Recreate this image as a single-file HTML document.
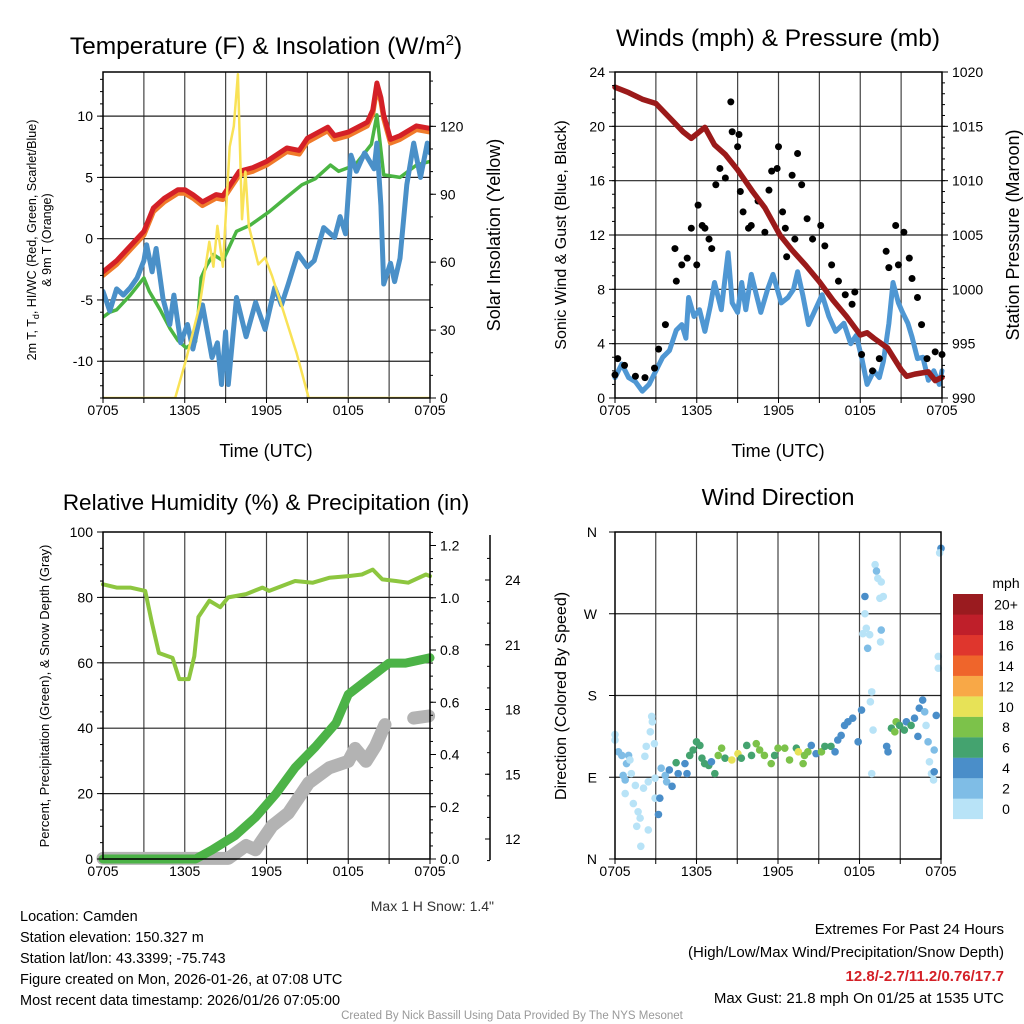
<!DOCTYPE html>
<html><head><meta charset="utf-8"><style>
html,body{margin:0;padding:0;background:#fff;}
svg{display:block;font-family:"Liberation Sans",Arial,sans-serif;}
</style></head><body>
<svg id="c" width="1024" height="1024" viewBox="0 0 1024 1024"></svg>
<script>
// ---------- Panel 1: temperature & insolation ----------
const tRed=[0,1,2,3,3.7,4.5,5.5,6,6.6,7.3,8.3,8.8,10,11,12,13.5,14.4,15,16.5,17,18,19.4,19.8,20.1,20.4,20.6,21.1,21.8,23,24];
const red=[-2.7,-1.8,-0.6,0.6,2.5,3.3,4.0,4.0,3.6,3.0,3.6,3.5,5.5,5.8,6.3,7.4,7.2,8.2,9.1,8.4,8.7,9.5,10.5,12.7,11.5,10.1,8.1,8.4,9.2,9.0];
const orange=[-3.0,-2.1,-0.9,0.3,2.2,3.0,3.7,3.7,3.3,2.7,3.3,3.2,5.2,5.5,6.0,7.1,6.9,7.9,8.8,8.1,8.4,9.2,10.2,12.3,11.2,9.8,7.8,8.1,8.9,8.7];
const tGreen=[0,0.5,1,2,3,3.4,4.2,4.9,5.5,6.1,6.8,7.0,7.2,7.6,8.1,8.8,9.8,10.8,12.2,13.5,14.6,15.6,16.7,17.3,18.5,19.7,20.1,20.6,21.8,23,24];
const green=[-6.4,-6.0,-5.8,-4.6,-3.2,-4.3,-5.8,-7.3,-8.3,-8.9,-8.4,-6,-3.2,-2.2,-1.3,-1.8,0.6,1.1,2.2,3.4,4.4,4.9,6.0,5.5,6.0,7.7,10.1,5.2,5.0,6.0,6.3];
const tBlue=[0,0.5,1,1.5,2,2.5,3,3.2,3.6,3.9,4.4,4.9,5.2,5.7,6.2,6.6,7.3,8.0,8.4,8.7,9.0,9.2,9.8,10.5,11.2,11.9,12.6,13.1,13.6,14.3,15,15.5,16.2,17,17.4,17.8,18.2,18.6,19.2,19.9,20.1,20.4,20.6,21.1,21.4,21.8,22.3,22.8,23.3,23.8,24];
const blue=[-4.3,-5.9,-4.1,-4.6,-4.0,-3.2,-1.8,-0.5,-2.7,-0.8,-4.9,-7,-4.6,-8.5,-7,-9,-5.4,-9.7,-8.5,-11.9,-7.6,-11.9,-4.8,-8.0,-5.2,-7.4,-4,-5.4,-3.7,-1.2,-2.3,-1.8,0.9,0.1,1.8,0.4,6.8,5.5,7.0,5.7,7.8,2.7,-3.7,-2.0,-3.5,-1.6,4.4,7.8,5.0,7.8,7.0];
const tSun=[0,5.3,6.1,7.1,7.8,8.1,8.4,8.8,9.3,9.6,9.9,10.2,10.45,10.7,11.4,11.9,12.4,13.1,14.2,15.1,24];
const sun=[0,0,17,41,69,58,76,58,111,120,143,79,100,76,59,62,54,41,20,0,0];
const p1LeftTicks=[-10,-5,0,5,10];
const p1RightTicks=[0,30,60,90,120];
const timeLabels=["0705","1305","1905","0105","0705"];
// ---------- Panel 2: winds & pressure ----------
const tPres=[0,1,2,3,4,5,5.6,6.6,7.3,8.1,9,10.1,11,12.1,13,14,15,16,17,18,18.5,19,20,21,21.4,22,23,23.5,24];
const pres=[1018.6,1018.1,1017.5,1017.1,1015.8,1014.5,1013.9,1014.9,1013.3,1012.4,1011,1009,1007.5,1005,1003.6,1002.2,1000.7,999,997.5,995.8,996,995.5,994.6,992.6,992,992.2,992.4,991.6,991.9];
const tWind=[0,0.5,1,1.5,2,2.5,3,3.5,4,4.5,4.9,5.2,5.4,5.8,6.2,6.6,7,7.3,7.8,8.3,8.6,9.0,9.3,9.6,10,10.4,10.7,11.2,11.6,12.2,12.7,13.1,13.4,13.8,14.2,14.7,15.2,15.7,16.2,16.8,17.3,17.7,18.1,18.5,19,19.4,19.7,20.1,20.4,20.8,21.1,21.5,21.8,22.2,22.6,23,23.4,23.8,24];
const wind=[1.5,2.5,1.5,1.2,0.5,1.0,2.0,3.0,3.5,5.0,5.4,4.4,7.4,6.0,6.5,4.9,6.8,8.5,6.5,10.7,7.0,6.3,8.5,6.5,9.1,7.5,6.3,8.0,9.1,7.0,7.4,8.0,9.3,7.5,5.4,6.5,7.6,6.0,4.9,5.5,4.0,4.6,3.0,1.0,2.0,1.5,2.7,5.5,8.5,7.0,6.3,5.5,4.5,2.9,3.0,1.3,2.0,1.0,2.0];
const tGust=[0,0.2,0.7,1.5,2.2,2.9,3.2,3.7,4.4,4.5,4.9,5.3,5.6,6.0,6.1,6.4,6.6,6.9,7.1,7.4,7.7,8.1,8.5,8.6,9.0,9.1,9.2,9.4,9.8,10.0,10.5,11.0,11.3,11.5,11.9,12.0,12.3,12.5,12.6,13.0,13.2,13.4,13.7,14.1,14.5,15.1,15.4,15.9,16.4,16.9,17.4,17.6,18.1,18.9,19.4,19.9,20.1,20.6,20.8,21.2,21.6,21.8,22.2,22.5,22.9,23.5,24];
const gust=[1.7,2.9,2.4,1.6,1.5,2.2,3.6,5.4,11,8.6,9.8,10.3,12.5,9.8,14.2,12.7,12.5,11.7,11.0,15.7,16.9,16.2,21.8,19.6,18.5,19.4,15.2,13.7,12.5,12.7,14.5,12.2,15.3,16.7,16.9,18.5,13.7,12.5,10.4,16.4,11.7,18.0,15.7,13.2,11.7,12.7,11.2,9.8,8.6,7.6,6.9,7.8,3.2,2.0,2.9,10.8,9.6,12.7,9.8,12.2,10.3,8.8,7.4,5.4,2.9,3.4,3.2];
const p2LeftTicks=[0,4,8,12,16,20,24];
const p2RightTicks=[990,995,1000,1005,1010,1015,1020];
// ---------- Panel 3: RH, precip, snow ----------
const tRH=[0,1,2,3.1,3.6,4.1,5.1,5.6,6.3,6.7,7.0,7.8,8.6,9.2,10.5,11.7,12.2,14.1,15.4,16.6,18,19,19.8,20.5,21.5,22.4,23.7,24];
const rh=[84,83,83,82,72,63,61.5,55,55,62,74,79,77,80,81,83,82,85,84.5,86,86.5,87,88.5,85.5,85,84.5,87,86.5];
const tPcp=[0,6.8,8,9.7,11.2,12.7,14.1,15.6,17.1,18,19.5,21,22.2,24];
const pcp=[0,0,0.035,0.09,0.16,0.25,0.35,0.43,0.52,0.63,0.69,0.75,0.75,0.77];
const tSnow=[0,6.7,9.2,10.5,11.2,12.4,13.6,15.1,16.6,18.0,18.5,19.3,20.0,20.7];
const snow=[11.1,11.1,11.1,11.7,11.5,12.6,13.2,14.6,15.3,15.6,16.2,15.6,16.3,17.3];
const tSnow2=[22.8,23.9];
const snow2=[17.6,17.7];
const p3LeftTicks=[0,20,40,60,80,100];
const p3RightTicks=[0,0.2,0.4,0.6,0.8,1.0,1.2];
const p3SnowTicks=[12,15,18,21,24];
// ---------- Panel 4: wind direction ----------
const tDir=[0,0,0.25,0.5,1.0,0.85,1.1,0.6,0.75,1.2,1.5,0.75,1.35,1.7,1.85,1.6,1.9,2.1,2.2,2.3,2.45,2.45,2.7,2.75,2.6,2.9,2.95,2.95,3.2,3.3,3.4,3.7,3.8,4.2,4.0,4.5,4.65,5.15,5.3,5.5,5.75,6.0,6.25,6.4,6.6,6.9,7.1,7.35,7.6,7.85,8.1,8.6,9.05,9.3,9.7,10.05,10.4,10.65,11.0,11.5,11.75,12.0,12.5,12.85,13.35,13.5,13.85,13.95,14.2,14.45,14.8,15.2,15.45,15.9,16.2,16.4,16.65,16.9,17.15,17.5,17.9,18.15,18.4,18.4,18.5,18.25,18.6,18.75,18.9,18.8,19.0,18.9,19.15,19.25,19.35,19.6,19.5,19.75,19.6,19.55,20.0,20.1,20.35,20.6,20.7,20.95,21.3,21.45,21.8,22.05,22.3,22.4,22.65,22.8,22.9,23.05,23.15,23.3,23.5,23.5,23.45,23.8,23.8,23.65,24.0,23.9];
const dirs=[137,131,118,114,114,105,109,92,87,94,81,72,61,52,45,36,14,78,113,124,32,85,157,151,140,127,89,67,49,67,100,92,85,80,98,106,94,105,94,114,120,129,125,111,105,103,107,94,114,122,111,109,116,111,125,114,127,120,114,105,114,122,122,109,122,118,105,114,118,125,116,118,124,124,118,131,136,147,151,155,129,164,289,270,254,248,232,247,184,173,142,94,324,317,309,305,287,289,252,239,124,118,144,140,151,147,142,151,147,155,135,166,175,162,147,129,107,94,120,96,87,210,223,158,342,337];
const dirSpeed=[1,1,3,3,3,3,1,3,3,1,1,1,1,1,1,1,1,1,1,1,1,1,1,1,1,1,1,1,5,5,3,3,3,5,5,7,5,5,5,7,7,7,7,7,7,7,5,7,9,9,7,11,11,7,7,7,9,9,9,9,7,9,9,9,7,11,9,9,9,5,5,9,7,7,5,5,5,5,5,5,5,5,5,1,1,1,3,1,1,1,1,1,1,3,1,1,1,1,3,1,5,5,7,9,9,7,7,5,7,5,5,5,5,3,1,3,1,1,3,5,1,1,1,5,5,1];
const dirLabels=["N","E","S","W","N"];
const speedBins=["0","2","4","6","8","10","12","14","16","18","20+"];
const binColors=["#b8e3f7","#7fbde6","#4a8ec9","#44a36f","#7cc24a","#e7e257","#f8a847","#ef652b","#df362d","#bf1f2a","#9a1b1f"];

const NS="http://www.w3.org/2000/svg";
const svg=document.getElementById("c");
function el(tag,attrs,parent){const e=document.createElementNS(NS,tag);for(const k in attrs)e.setAttribute(k,attrs[k]);(parent||svg).appendChild(e);return e;}
function txt(s,x,y,size,anchor,parent,extra){const e=el("text",Object.assign({x:x,y:y,"font-size":size,"text-anchor":anchor||"middle",fill:"#000"},extra||{}),parent);e.textContent=s;return e;}
function lin(d0,d1,r0,r1){return v=>r0+(v-d0)*(r1-r0)/(d1-d0);}
function poly(ts,vs,xs,ys,color,w,parent,name,cap){
  const pts=ts.map((t,i)=>xs(t).toFixed(1)+","+ys(vs[i]).toFixed(1)).join(" ");
  const p=el("polyline",{points:pts,fill:"none",stroke:color,"stroke-width":w,"stroke-linejoin":"round","stroke-linecap":cap||"round"},parent);
  
  
  return p;
}
function frame(g,x0,x1,yT,yB,xs){
  for(let h=3;h<24;h+=3){el("line",{x1:xs(h),x2:xs(h),y1:yT,y2:yB,stroke:"#444","stroke-width":1.2},g);}
  for(let h=0;h<=24;h+=3){el("line",{x1:xs(h),x2:xs(h),y1:yB,y2:yB+5,stroke:"#000","stroke-width":1},g);}
  timeLabels.forEach((s,i)=>{const t=txt(s,xs(i*6),yB+17,14,"middle",g);});
}
function hgrid(g,vals,ys,x0,x1){vals.forEach(v=>el("line",{x1:x0,x2:x1,y1:ys(v),y2:ys(v),stroke:"#222","stroke-width":1.2},g));}
function ticks(g,x,ys,d0,d1,minor,major,dir,labels,fmt){
  const n=Math.round((d1-d0)/minor);
  for(let k=0;k<=n;k++){const v=d0+k*minor;el("line",{x1:x,x2:x+dir*3,y1:ys(v),y2:ys(v),stroke:"#000","stroke-width":1},g);}
  labels.forEach(v=>{el("line",{x1:x,x2:x+dir*6,y1:ys(v),y2:ys(v),stroke:"#000","stroke-width":1},g);
    const t=txt(fmt?fmt(v):String(v),x+dir*10,ys(v)+5,14,dir<0?"end":"start",g);});
}
function box(g,x0,x1,yT,yB){el("rect",{x:x0,y:yT,width:x1-x0,height:yB-yT,fill:"none",stroke:"#000","stroke-width":1.5},g);}
function clip(id,x0,x1,yT,yB){const cp=el("clipPath",{id:id});el("rect",{x:x0,y:yT,width:x1-x0,height:yB-yT},cp);}

// ===== Panel 1 =====
{
const g=el("g",{});
const x0=103,x1=430,yT=72,yB=398;
const xs=lin(0,24,x0,x1), yL=lin(-13,13.6,yB,yT), yR=lin(0,144,yB,yT);
clip("cp1",x0,x1,yT,yB);
frame(g,x0,x1,yT,yB,xs);
hgrid(g,p1LeftTicks,yL,x0,x1);
const s=el("g",{"clip-path":"url(#cp1)"},g);
poly(tRed,orange,xs,yL,"#f07a2a",5,s,"orange-9m-temp-line");
poly(tRed,red,xs,yL,"#d42027",5,s,"red-2m-temp-line");
poly(tGreen,green,xs,yL,"#4bb543",3.5,s,"green-dewpoint-line");
poly(tBlue,blue,xs,yL,"#4a90c8",5,s,"blue-windchill-line");
poly(tSun,sun,xs,yR,"#f9e256",2.5,s,"yellow-insolation-line");
box(g,x0,x1,yT,yB);
ticks(g,x0,yL,-13,13,1,5,-1,p1LeftTicks);
ticks(g,x1,yR,0,140,10,30,1,p1RightTicks);
const t1=el("text",{x:266,y:54,"font-size":24.5,"text-anchor":"middle"},g);t1.innerHTML='Temperature (F) &amp; Insolation (W/m<tspan dy="-9" font-size="15">2</tspan><tspan dy="9">)</tspan>';

const xt=txt("Time (UTC)",266,457,18,"middle",g);
const yl=el("text",{transform:"translate(36,240) rotate(-90)","font-size":12.5,"text-anchor":"middle"},g);yl.innerHTML='2m T, T<tspan dy="3" font-size="9">d</tspan><tspan dy="-3">, HI/WC (Red, Green, Scarlet/Blue)</tspan>';

const yl2=txt("& 9m T (Orange)",0,0,12.5,"middle",g,{transform:"translate(51,240) rotate(-90)"});
const yr=txt("Solar Insolation (Yellow)",0,0,18,"middle",g,{transform:"translate(500,235) rotate(-90)"});
}
// ===== Panel 2 =====
{
const g=el("g",{});
const x0=615,x1=942,yT=72,yB=398;
const xs=lin(0,24,x0,x1), yL=lin(0,24,yB,yT), yR=lin(990,1020,yB,yT);
clip("cp2",x0-4,x1+4,yT,yB+2);
frame(g,x0,x1,yT,yB,xs);
hgrid(g,[4,8,12,16,20],yL,x0,x1);
const s=el("g",{"clip-path":"url(#cp2)"},g);
poly(tWind,wind,xs,yL,"#4f97d3",5,s,"sonic-wind-line");
tGust.forEach((t,i)=>{const c=el("circle",{cx:xs(t),cy:yL(gust[i]),r:3.5,fill:"#000"},s);

});
poly(tPres,pres,xs,yR,"#9b1a1a",5.5,s,"pressure-line");
box(g,x0,x1,yT,yB);
ticks(g,x0,yL,0,24,1,4,-1,p2LeftTicks);
ticks(g,x1,yR,990,1020,1,5,1,p2RightTicks);
const t1=txt("Winds (mph) & Pressure (mb)",778,46,24.5,"middle",g);
const xt=txt("Time (UTC)",778,457,18,"middle",g);
const yl=txt("Sonic Wind & Gust (Blue, Black)",0,0,16,"middle",g,{transform:"translate(566,235) rotate(-90)"});
const yr=txt("Station Pressure (Maroon)",0,0,18,"middle",g,{transform:"translate(1019,235) rotate(-90)"});
}
// ===== Panel 3 =====
{
const g=el("g",{});
const x0=103,x1=430,yT=532,yB=859;
const xs=lin(0,24,x0,x1), yL=lin(0,100,yB,yT), yR=lin(0,1.2,yB,545.5), yS=lin(12,24,839,580);
frame(g,x0,x1,yT,yB,xs);
hgrid(g,[20,40,60,80],yL,x0,x1);
poly(tSnow,snow,xs,yS,"#b3b3b3",13,g,"snow-depth-line");
poly(tSnow2,snow2,xs,yS,"#b3b3b3",13,g,"snow-depth-line-2");
poly(tPcp,pcp,xs,yR,"#4cb347",9,g,"precipitation-line");
poly(tRH,rh,xs,yL,"#8dc63f",4,g,"relative-humidity-line");
box(g,x0,x1,yT,yB);
ticks(g,x0,yL,0,100,5,20,-1,p3LeftTicks);
ticks(g,x1,yR,0,1.25,0.05,0.2,1,p3RightTicks,v=>v.toFixed(1));
el("line",{x1:490,x2:490,y1:535,y2:860,stroke:"#000","stroke-width":1.5},g);
for(let v=11;v<=25;v++){el("line",{x1:490,x2:487,y1:yS(v),y2:yS(v),stroke:"#000","stroke-width":1},g);}
p3SnowTicks.forEach(v=>{el("line",{x1:490,x2:485,y1:yS(v),y2:yS(v),stroke:"#000","stroke-width":1},g);const t=txt(String(v),505,yS(v)+5,14,"start",g);});
const t1=txt("Relative Humidity (%) & Precipitation (in)",266,510,22.5,"middle",g);
const yl=txt("Percent, Precipitation (Green), & Snow Depth (Gray)",0,0,13,"middle",g,{transform:"translate(49,696) rotate(-90)"});
const ms=txt('Max 1 H Snow: 1.4"',494,911,14,"end",g,{fill:"#333"});
}
// ===== Panel 4 =====
{
const g=el("g",{});
const x0=615,x1=941,yT=532,yB=859;
const xs=lin(0,24,x0,x1), yD=lin(0,360,yB,yT);
frame(g,x0,x1,yT,yB,xs);
hgrid(g,[90,180,270],yD,x0,x1);
const binOf=v=>Math.min(10,Math.max(0,Math.floor(v/2)));
tDir.forEach((t,i)=>{const c=el("circle",{cx:xs(t),cy:yD(dirs[i]),r:3.8,fill:binColors[binOf(dirSpeed[i])]},g);

});
box(g,x0,x1,yT,yB);
[0,90,180,270,360].forEach((v,i)=>{el("line",{x1:x0,x2:x0-6,y1:yD(v),y2:yD(v),stroke:"#000"},g);const lbl=["N","E","S","W","N"][i];const t=txt(lbl,597,yD(v)+5,14,"end",g);});
const t1=txt("Wind Direction",778,505,23.5,"middle",g);
const yl=txt("Direction (Colored By Speed)",0,0,16,"middle",g,{transform:"translate(566,696) rotate(-90)"});
const lg=el("g",{},g);
const mt=txt("mph",1006,588,14,"middle",lg);
for(let k=0;k<11;k++){const y=594+(10-k)*20.45;
 const r=el("rect",{x:953,y:y,width:30,height:20.6,fill:binColors[k]},lg);
 
 
 const t=txt(speedBins[k],1006,y+15.5,14,"middle",lg);}
}
// ===== Footer =====
{
const g=el("g",{});
["Location: Camden","Station elevation: 150.327 m","Station lat/lon: 43.3399; -75.743","Figure created on Mon, 2026-01-26, at 07:08 UTC","Most recent data timestamp: 2026/01/26 07:05:00"].forEach((s,i)=>{const t=txt(s,20,921+i*21,14.5,"start",g);});
const a=txt("Extremes For Past 24 Hours",1004,934,15,"end",g);
const b=txt("(High/Low/Max Wind/Precipitation/Snow Depth)",1004,957,15,"end",g);
const c=txt("12.8/-2.7/11.2/0.76/17.7",1004,981,15,"end",g,{fill:"#d42027","font-weight":"bold"});
const d=txt("Max Gust: 21.8 mph On 01/25 at 1535 UTC",1004,1003,15,"end",g);
const e=txt("Created By Nick Bassill Using Data Provided By The NYS Mesonet",512,1019,11.5,"middle",g,{fill:"#999"});
}
</script>
</body></html>
